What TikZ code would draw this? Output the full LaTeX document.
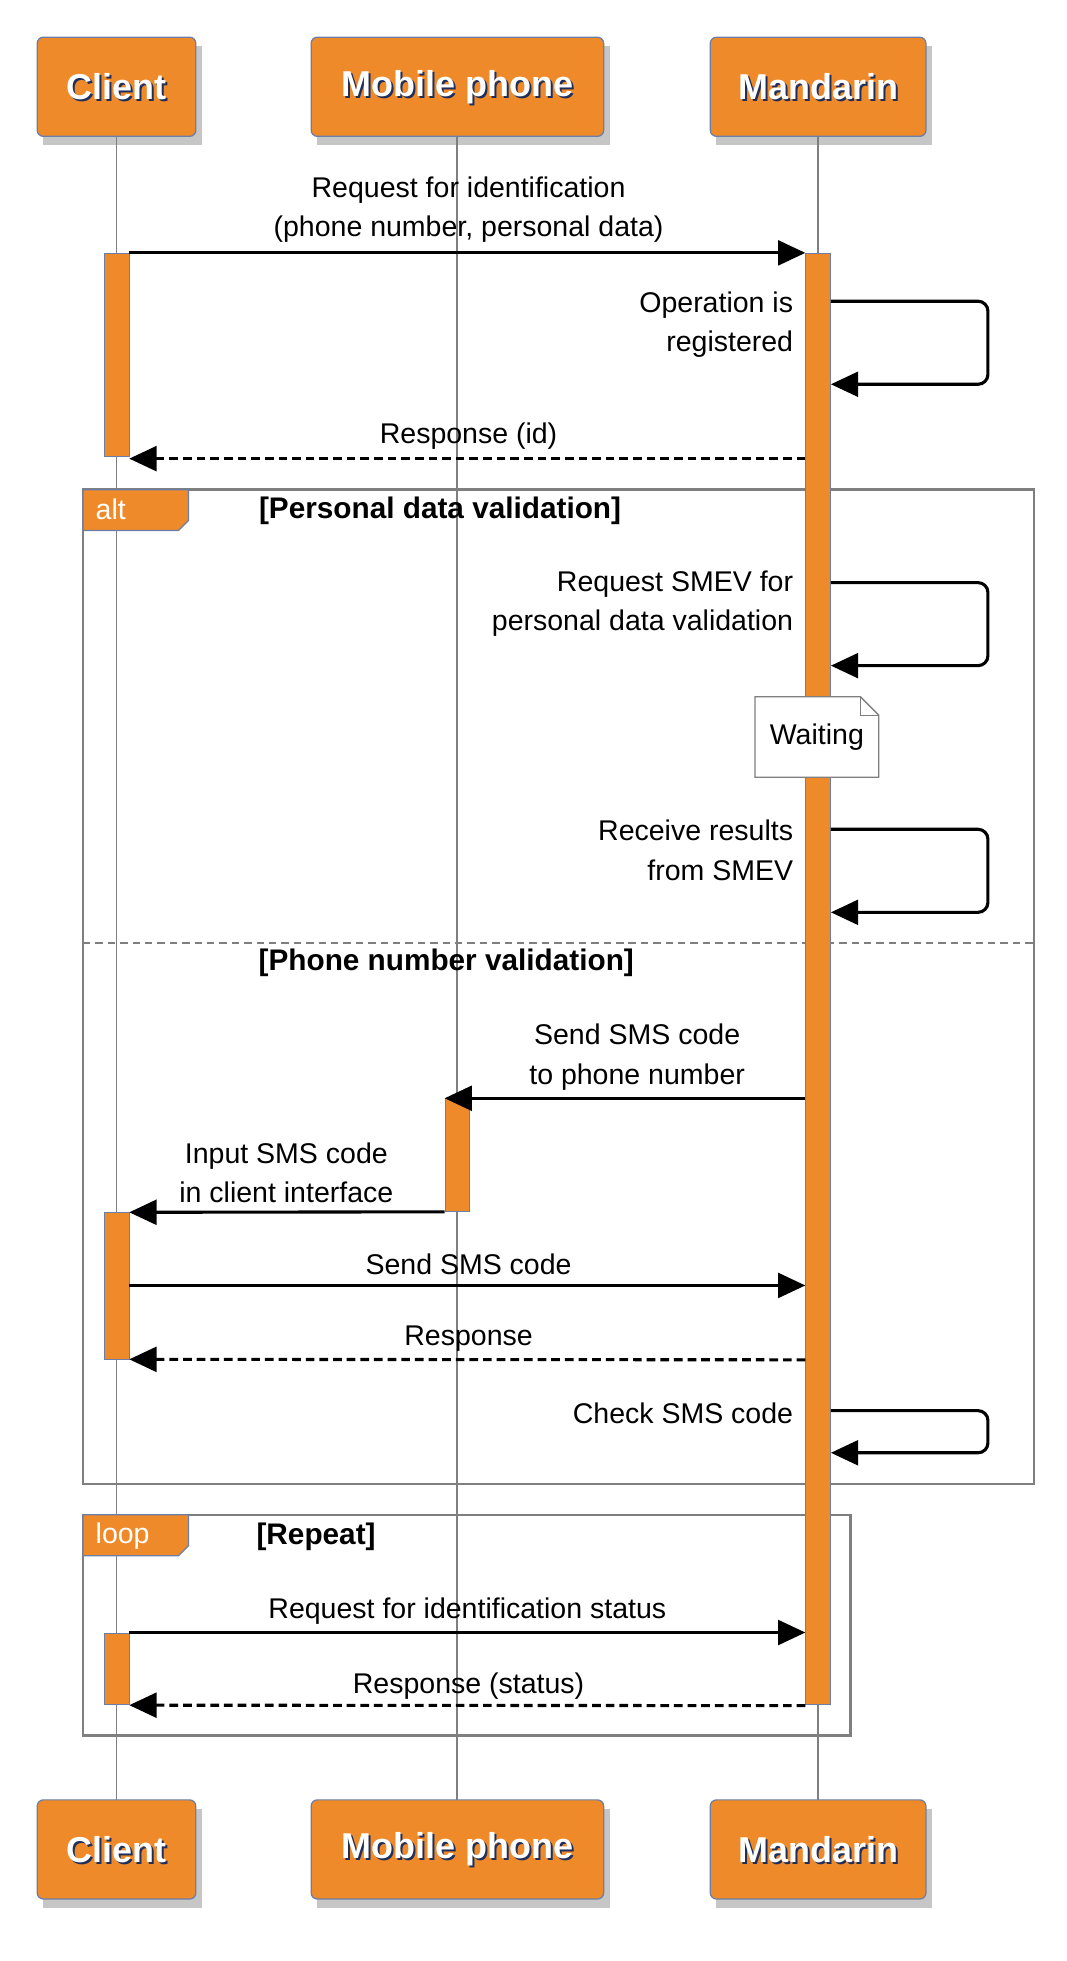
\documentclass[tikz,border=0pt]{standalone}
\usepackage{fontspec}
\setmainfont{Liberation Sans}
\usetikzlibrary{arrows.meta,shapes.misc}
\definecolor{org}{HTML}{EF8A2A}
\definecolor{obrd}{HTML}{6A7FA8}
\definecolor{hdrblue}{HTML}{1F2F5A}
\definecolor{lgray}{HTML}{7F7F7F}
\tikzset{
  actor/.style={draw=obrd,line width=1pt,fill=org,rounded corners=5pt,minimum height=80pt,inner sep=0pt},
  hdr/.style={text=white,font=\fontsize{29}{32}\selectfont\bfseries},
  hdrsh/.style={text=hdrblue,font=\fontsize{29}{32}\selectfont\bfseries},
  life/.style={draw=lgray,line width=1.5pt},
  act/.style={draw=obrd,line width=0.6pt,fill=org,minimum width=20pt,inner sep=0pt,anchor=north},
  msg/.style={draw=black,line width=2.5pt,-{Triangle[length=22pt,width=20pt]}},
  ret/.style={msg,dash pattern=on 7pt off 4pt},
  selfm/.style={msg,rounded corners=8pt},
  lbl/.style={font=\fontsize{23}{32}\selectfont,inner sep=0pt,align=center},
  lblr/.style={lbl,align=right,anchor=east},
  frm/.style={draw=lgray,line width=2pt},
  tag/.style={draw=obrd,line width=1pt,fill=org},
  tagt/.style={text=white,font=\fontsize{23}{26}\selectfont,anchor=west,inner sep=0pt},
  guard/.style={font=\fontsize{24}{26}\selectfont\bfseries,inner sep=0pt},
}
\begin{document}
\begin{tikzpicture}[x=1pt,y=-1pt]
\useasboundingbox (0,0) rectangle (860,1582);
% lifelines
\draw[life] (94,110) -- (94,1452);
\draw[life] (369,110) -- (369,1452);
\draw[life] (660,110) -- (660,1452);
% actors
\foreach \n/\x/\w/\t in {c/94/128/Client, p/369/236/Mobile phone, m/660/174/Mandarin}{
  \foreach \y/\s in {70/t,1492/b}{
    \fill[gray,opacity=0.45] (\x-\w/2+5,\y-40+7) rectangle (\x+\w/2+5,\y+40+7);
    \node[actor,minimum width=\w pt] (\n\s) at (\x,\y) {};
    \node[hdrsh] at ([shift={(1.8,1.8)}]\n\s) {\t};
    \node[hdr] at (\n\s) {\t};
  }
}
% frames
\draw[frm] (67,395) rectangle (834,1197);
\draw[frm,dash pattern=on 6pt off 4pt,line width=1.5pt] (67,761) -- (834,761);
\draw[frm] (67,1222) rectangle (686,1400);
% activations
\node[act,minimum height=164pt] (c1) at (94,204) {};
\node[act,minimum height=1171pt] (m1) at (660,204) {};
\node[act,minimum height=91pt] (p1) at (369,886) {};
\node[act,minimum height=118pt] (c2) at (94,978) {};
\node[act,minimum height=58pt] (c3) at (94,1317) {};
% tags
\draw[tag] (67,395) -- (152,395) -- (152,420) -- (144,428) -- (67,428) -- cycle;
\node[tagt] at (77,411) {alt};
\node[guard] at (355,412) {[Personal data validation]};
\draw[tag] (67,1222) -- (152,1222) -- (152,1247) -- (144,1255) -- (67,1255) -- cycle;
\node[tagt] at (77,1239) {loop};
\node[guard] at (255,1240) {[Repeat]};
\node[guard] at (360,777) {[Phone number validation]};
% messages
\node[lbl] at (378,169) {Request for identification\\(phone number, personal data)};
\draw[msg] (c1.north east) -- (m1.north west);
\node[lblr] at (640,262) {Operation is\\registered};
\draw[selfm] (m1.east |- 0,243) -| (797,310) -- (m1.east |- 0,310);
\node[lbl] at (378,352) {Response (id)};
\draw[ret] (m1.west |- 0,370) -- (c1.east |- 0,370);
\node[lblr] at (640,487) {Request SMEV for\\personal data validation};
\draw[selfm] (m1.east |- 0,470) -| (797,537) -- (m1.east |- 0,537);
% note
\draw[draw=lgray,fill=white,line width=1pt] (609,562) -- (694,562) -- (709,577) -- (709,627) -- (609,627) -- cycle;
\draw[draw=lgray,line width=1pt] (694,562) -- (694,577) -- (709,577);
\node[lbl] (note) at (659,595) {Waiting};
\node[lblr] at (640,686) {Receive results\\from SMEV};
\draw[selfm] (m1.east |- 0,669) -| (797,736) -- (m1.east |- 0,736);
\node[lbl] at (514,853) {Send SMS code\\to phone number};
\draw[msg] (m1.west |- 0,886) -- (p1.north west);
\node[lbl] at (231,946) {Input SMS code\\in client interface};
\draw[msg] (p1.south west) -- (c2.north east);
\node[lbl] at (378,1020) {Send SMS code};
\draw[msg] (c2.east |- 0,1037) -- (m1.west |- 0,1037);
\node[lbl] at (378,1080) {Response};
\draw[ret] (m1.west |- 0,1097) -- (c2.south east);
\node[lblr] at (640,1140) {Check SMS code};
\draw[selfm] (m1.east |- 0,1138) -| (797,1172) -- (m1.east |- 0,1172);
\node[lbl] at (377,1300) {Request for identification status};
\draw[msg] (c3.north east) -- (m1.west |- 0,1317);
\node[lbl] at (378,1360) {Response (status)};
\draw[ret] (m1.west |- 0,1376) -- (c3.south east);
\end{tikzpicture}
\end{document}
